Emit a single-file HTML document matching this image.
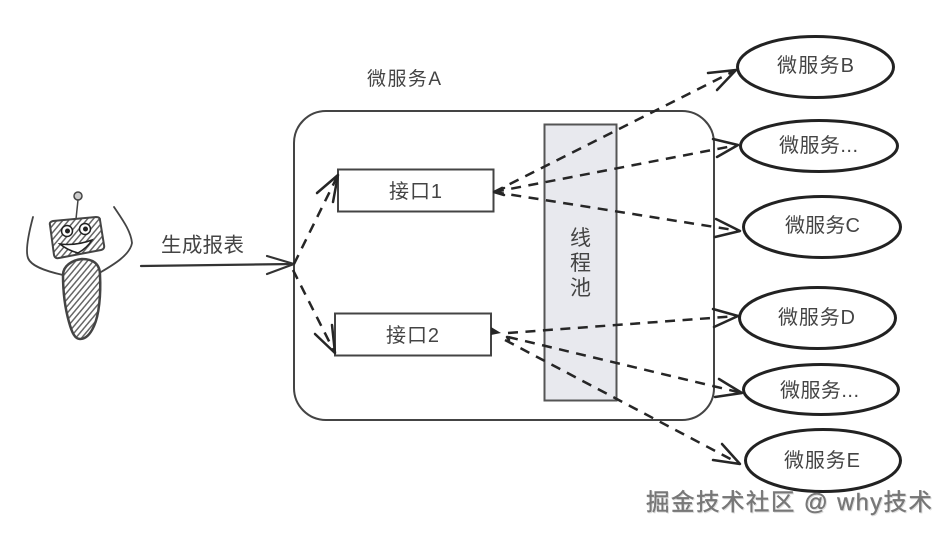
<!DOCTYPE html>
<html><head><meta charset="utf-8"><style>
html,body{margin:0;padding:0;background:#fff;width:949px;height:534px;overflow:hidden}
svg{display:block;filter:blur(.3px)}
text{font-family:"Liberation Sans","Noto Sans CJK SC",sans-serif;fill:#444}
</style></head><body>
<svg width="949" height="534" viewBox="0 0 949 534" xmlns="http://www.w3.org/2000/svg">
<defs>
<pattern id="h" width="4.500" height="4.500" patternUnits="userSpaceOnUse" patternTransform="rotate(40)">
<rect width="4.500" height="4.500" fill="#fff"/><rect width="1.500" height="4.500" fill="#666"/>
</pattern>
</defs>
<rect width="949" height="534" fill="#fff"/>
<!-- container -->
<rect x="294" y="111" width="420" height="309" rx="32" fill="#fff" stroke="#444" stroke-width="2"/>
<rect x="544.500" y="124.500" width="72" height="276" fill="#e8e9ee" stroke="#555" stroke-width="2"/>
<rect x="338" y="169.500" width="155.500" height="42" fill="#fff" stroke="#444" stroke-width="2"/>
<rect x="335" y="313.500" width="156" height="42" fill="#fff" stroke="#444" stroke-width="2"/>
<!-- robot -->
<g stroke="#444" fill="none" stroke-linecap="round">
<circle cx="78" cy="196" r="4" fill="#ccc" stroke-width="1.500"/>
<path d="M78 200L76 219" stroke-width="1.500"/>
<path d="M50 225Q49 222 53 221L96 217Q100 217 100 220L104 245Q105 249 101 250L59 258Q55 259 54 255Z" fill="url(#h)" stroke-width="2"/>
<circle cx="67" cy="231" r="5.500" fill="#fff" stroke="#222" stroke-width="1.500"/><circle cx="67.500" cy="231" r="2.500" fill="#222" stroke="none"/>
<circle cx="85" cy="229" r="5.500" fill="#fff" stroke="#222" stroke-width="1.500"/><circle cx="85.500" cy="229" r="2.500" fill="#222" stroke="none"/>
<path d="M60 244Q76 246 92 240Q87 248 78 253Q67 250 60 244Z" fill="#fff" stroke="#222" stroke-width="1.500"/>
<path d="M82 259C92 259 100 263 100 275C101 295 99 315 94 326C90 335 85 339 80 339C75 339 72 333 69 322C65 308 63 290 63 275C63 266 72 260 82 259Z" fill="url(#h)" stroke-width="2.500"/>
<path d="M33 217C29 232 25 250 28 258C31 266 45 271 63 275" stroke-width="1.800"/>
<path d="M114 207C122 219 131 231 132 243C130 255 113 265 101 272" stroke-width="1.800"/>
</g>
<!-- solid arrow -->
<g stroke="#333" fill="none" stroke-width="2.200" stroke-linecap="round" stroke-linejoin="round">
<path d="M141 266L294 264"/>
<path d="M267 256L294 264L267 274"/>
</g>
<!-- dashed connectors -->
<g stroke="#262626" fill="none" stroke-width="2.500" stroke-dasharray="10 7.500">
<path d="M294 264L338 175"/>
<path d="M293 270L335 353"/>
<path d="M494 192L736 70"/>
<path d="M494 192L738 145"/>
<path d="M494 192L740 231"/>
<path d="M508 333L738 316"/>
<path d="M508 337L742 393"/>
<path d="M505 340L740 464"/>
</g>
<g stroke="#262626" fill="none" stroke-width="2.500" stroke-linecap="round" stroke-linejoin="round">
<path d="M317 193L338 175L333 202"/>
<path d="M315 334L335 353L332 325"/>
<path d="M708 73L736 70L717 90"/>
<path d="M713 139L738 145L717 157"/>
<path d="M716 219L740 231L715 237"/>
<path d="M713 309L738 316L714 327"/>
<path d="M719 379L742 393L715 397"/>
<path d="M722 444L740 464L713 460"/>
<path d="M504 188L494 192L504 195"/>
<path d="M507 337L509 340"/>
</g>
<path d="M491 327L501 333L491 335Z" fill="#262626"/>
<!-- ellipses -->
<g fill="#fff" stroke="#222" stroke-width="3">
<ellipse cx="815.500" cy="67" rx="78" ry="30.500"/>
<ellipse cx="819" cy="146" rx="78.500" ry="25.500"/>
<ellipse cx="822" cy="227" rx="78.500" ry="30.500"/>
<ellipse cx="817.500" cy="318" rx="78" ry="30.500"/>
<ellipse cx="821" cy="389.500" rx="77.500" ry="25"/>
<ellipse cx="823" cy="460.500" rx="77.500" ry="31"/>
</g>
<!-- text -->
<g font-size="20">
<text x="367" y="85" font-size="19" textLength="74">微服务A</text>
<text x="161" y="252" font-size="20.500" textLength="83">生成报表</text>
<text x="389" y="198" textLength="53">接口1</text>
<text x="386" y="342" textLength="53">接口2</text>
<text x="570" y="245" font-size="21">线</text>
<text x="570" y="270" font-size="21">程</text>
<text x="570" y="295" font-size="21">池</text>
<text x="777" y="72" textLength="77">微服务B</text>
<text x="779" y="152" textLength="79">微服务...</text>
<text x="785" y="232" textLength="75">微服务C</text>
<text x="778" y="324" textLength="77">微服务D</text>
<text x="780" y="397" textLength="79">微服务...</text>
<text x="784" y="467" textLength="76">微服务E</text>
</g>
<text x="646" y="510" font-size="23.500" textLength="286" style="fill:#777;stroke:#777;stroke-width:.4;filter:drop-shadow(1px 1px 0 #ddd)">掘金技术社区 @ why技术</text>
</svg>
</body></html>
